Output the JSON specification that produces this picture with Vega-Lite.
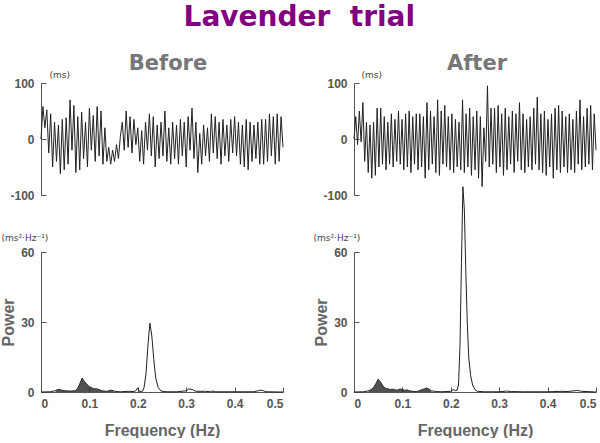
{
  "$schema": "https://vega.github.io/schema/vega-lite/v6.json",
  "background": "white",
  "padding": {"left": 0, "top": 4, "right": 0, "bottom": 0},
  "title": {"text": "Lavender\u00a0 trial", "font": "DejaVu Sans", "fontSize": 28, "fontWeight": "bold", "color": "#800080", "anchor": "middle", "offset": 21},
  "config": {
    "view": {"stroke": null},
    "axis": {"grid": false, "domainColor": "#555", "tickColor": "#555", "labelFont": "Liberation Sans", "labelFontWeight": "bold", "labelColor": "#555", "labelFontSize": 12, "titleFont": "Liberation Sans", "titleFontWeight": "bold", "titleColor": "#666", "titleFontSize": 16, "tickSize": -5, "labelPadding": 12}
  },
  "datasets": {
    "before_ts": [
      {"t":0,"v":0},{"t":1,"v":58},{"t":2,"v":20},{"t":3,"v":52},{"t":4,"v":-25},{"t":5,"v":45},{"t":6,"v":-50},{"t":7,"v":30},{"t":8,"v":-40},{"t":9,"v":25},
      {"t":10,"v":-62},{"t":11,"v":35},{"t":12,"v":-55},{"t":13,"v":38},{"t":14,"v":-45},{"t":15,"v":70},{"t":16,"v":-20},{"t":17,"v":60},{"t":18,"v":-60},{"t":19,"v":40},
      {"t":20,"v":-55},{"t":21,"v":48},{"t":22,"v":-35},{"t":23,"v":30},{"t":24,"v":-50},{"t":25,"v":55},{"t":26,"v":-20},{"t":27,"v":42},{"t":28,"v":-40},{"t":29,"v":58},
      {"t":30,"v":-30},{"t":31,"v":50},{"t":32,"v":-45},{"t":33,"v":20},{"t":34,"v":-40},{"t":35,"v":-15},{"t":36,"v":-45},{"t":37,"v":-20},{"t":38,"v":-40},{"t":39,"v":-10},
      {"t":40,"v":-35},{"t":41,"v":5},{"t":42,"v":30},{"t":43,"v":-20},{"t":44,"v":50},{"t":45,"v":-15},{"t":46,"v":40},{"t":47,"v":-25},{"t":48,"v":35},{"t":49,"v":-10},
      {"t":50,"v":20},{"t":51,"v":-40},{"t":52,"v":15},{"t":53,"v":-45},{"t":54,"v":30},{"t":55,"v":-20},{"t":56,"v":45},{"t":57,"v":-30},{"t":58,"v":40},{"t":59,"v":-50},
      {"t":60,"v":25},{"t":61,"v":-35},{"t":62,"v":30},{"t":63,"v":-30},{"t":64,"v":50},{"t":65,"v":-40},{"t":66,"v":20},{"t":67,"v":-45},{"t":68,"v":30},{"t":69,"v":-35},
      {"t":70,"v":25},{"t":71,"v":-45},{"t":72,"v":35},{"t":73,"v":-30},{"t":74,"v":30},{"t":75,"v":-50},{"t":76,"v":40},{"t":77,"v":-20},{"t":78,"v":55},{"t":79,"v":-35},
      {"t":80,"v":30},{"t":81,"v":-60},{"t":82,"v":10},{"t":83,"v":-45},{"t":84,"v":25},{"t":85,"v":-30},{"t":86,"v":20},{"t":87,"v":-40},{"t":88,"v":45},{"t":89,"v":-25},
      {"t":90,"v":40},{"t":91,"v":-35},{"t":92,"v":30},{"t":93,"v":-45},{"t":94,"v":35},{"t":95,"v":-30},{"t":96,"v":25},{"t":97,"v":-40},{"t":98,"v":35},{"t":99,"v":-25},
      {"t":100,"v":40},{"t":101,"v":-30},{"t":102,"v":30},{"t":103,"v":-45},{"t":104,"v":25},{"t":105,"v":-50},{"t":106,"v":35},{"t":107,"v":-55},{"t":108,"v":30},{"t":109,"v":-40},
      {"t":110,"v":25},{"t":111,"v":-35},{"t":112,"v":30},{"t":113,"v":-45},{"t":114,"v":35},{"t":115,"v":-45},{"t":116,"v":35},{"t":117,"v":-40},{"t":118,"v":45},{"t":119,"v":-30},
      {"t":120,"v":40},{"t":121,"v":-45},{"t":122,"v":45},{"t":123,"v":-40},{"t":124,"v":40},{"t":125,"v":-15}
    ],
    "after_ts": [
      {"t":0,"v":0},{"t":1,"v":40},{"t":2,"v":-10},{"t":3,"v":50},{"t":4,"v":-5},{"t":5,"v":65},{"t":6,"v":-40},{"t":7,"v":30},{"t":8,"v":-60},{"t":9,"v":25},
      {"t":10,"v":-70},{"t":11,"v":30},{"t":12,"v":-65},{"t":13,"v":55},{"t":14,"v":-50},{"t":15,"v":55},{"t":16,"v":-45},{"t":17,"v":40},{"t":18,"v":-55},{"t":19,"v":30},
      {"t":20,"v":-45},{"t":21,"v":45},{"t":22,"v":-50},{"t":23,"v":35},{"t":24,"v":-40},{"t":25,"v":50},{"t":26,"v":-45},{"t":27,"v":35},{"t":28,"v":-55},{"t":29,"v":45},
      {"t":30,"v":-50},{"t":31,"v":50},{"t":32,"v":-60},{"t":33,"v":40},{"t":34,"v":-45},{"t":35,"v":45},{"t":36,"v":-55},{"t":37,"v":45},{"t":38,"v":-50},{"t":39,"v":40},
      {"t":40,"v":-70},{"t":41,"v":65},{"t":42,"v":-55},{"t":43,"v":50},{"t":44,"v":-45},{"t":45,"v":40},{"t":46,"v":-60},{"t":47,"v":70},{"t":48,"v":-65},{"t":49,"v":50},
      {"t":50,"v":-45},{"t":51,"v":60},{"t":52,"v":-50},{"t":53,"v":40},{"t":54,"v":-55},{"t":55,"v":45},{"t":56,"v":-60},{"t":57,"v":35},{"t":58,"v":-50},{"t":59,"v":30},
      {"t":60,"v":-55},{"t":61,"v":70},{"t":62,"v":-60},{"t":63,"v":45},{"t":64,"v":-50},{"t":65,"v":55},{"t":66,"v":-65},{"t":67,"v":40},{"t":68,"v":-55},{"t":69,"v":50},
      {"t":70,"v":-70},{"t":71,"v":40},{"t":72,"v":-85},{"t":73,"v":20},{"t":74,"v":-40},{"t":75,"v":95},{"t":76,"v":-50},{"t":77,"v":55},{"t":78,"v":-45},{"t":79,"v":55},
      {"t":80,"v":-60},{"t":81,"v":60},{"t":82,"v":-50},{"t":83,"v":45},{"t":84,"v":-65},{"t":85,"v":55},{"t":86,"v":-55},{"t":87,"v":40},{"t":88,"v":-45},{"t":89,"v":50},
      {"t":90,"v":-60},{"t":91,"v":45},{"t":92,"v":-40},{"t":93,"v":65},{"t":94,"v":-55},{"t":95,"v":45},{"t":96,"v":-60},{"t":97,"v":35},{"t":98,"v":-50},{"t":99,"v":40},
      {"t":100,"v":-55},{"t":101,"v":55},{"t":102,"v":-45},{"t":103,"v":75},{"t":104,"v":-55},{"t":105,"v":45},{"t":106,"v":-60},{"t":107,"v":50},{"t":108,"v":-65},{"t":109,"v":35},
      {"t":110,"v":-50},{"t":111,"v":45},{"t":112,"v":-70},{"t":113,"v":55},{"t":114,"v":-55},{"t":115,"v":60},{"t":116,"v":-60},{"t":117,"v":50},{"t":118,"v":-50},{"t":119,"v":40},
      {"t":120,"v":-60},{"t":121,"v":45},{"t":122,"v":-55},{"t":123,"v":35},{"t":124,"v":-60},{"t":125,"v":50},{"t":126,"v":-45},{"t":127,"v":70},{"t":128,"v":-55},{"t":129,"v":40},
      {"t":130,"v":-50},{"t":131,"v":55},{"t":132,"v":-45},{"t":133,"v":60},{"t":134,"v":-55},{"t":135,"v":45},{"t":136,"v":-20}
    ],
    "before_psd": [
      {"f":0,"p":0},{"f":0.02,"p":0.1},{"f":0.03,"p":0.6},{"f":0.035,"p":1.1},{"f":0.04,"p":1.0},{"f":0.045,"p":0.7},{"f":0.05,"p":0.5},{"f":0.06,"p":0.4},{"f":0.07,"p":0.5},{"f":0.075,"p":1.2},
      {"f":0.08,"p":3.5},{"f":0.085,"p":6},{"f":0.09,"p":4.5},{"f":0.095,"p":3.2},{"f":0.1,"p":2.3},{"f":0.105,"p":1.8},{"f":0.11,"p":1.3},{"f":0.115,"p":1.4},{"f":0.12,"p":1.0},{"f":0.125,"p":0.6},
      {"f":0.13,"p":0.4},{"f":0.135,"p":0.3},{"f":0.14,"p":0.5},{"f":0.145,"p":0.8},{"f":0.15,"p":0.5},{"f":0.155,"p":0.2},{"f":0.165,"p":0.1},{"f":0.18,"p":0.3},{"f":0.19,"p":0.2},{"f":0.195,"p":0.4},
      {"f":0.2,"p":1.8},{"f":0.203,"p":0.3},{"f":0.21,"p":0.3},{"f":0.213,"p":2},{"f":0.217,"p":8},{"f":0.221,"p":20},{"f":0.225,"p":29.5},{"f":0.229,"p":24},{"f":0.233,"p":14},{"f":0.237,"p":6},
      {"f":0.242,"p":2},{"f":0.248,"p":0.4},{"f":0.26,"p":0.1},{"f":0.28,"p":0.1},{"f":0.3,"p":0.5},{"f":0.305,"p":1.3},{"f":0.31,"p":1.2},{"f":0.315,"p":0.8},{"f":0.32,"p":0.3},{"f":0.34,"p":0.3},
      {"f":0.35,"p":0.1},{"f":0.355,"p":0.4},{"f":0.36,"p":0.1},{"f":0.4,"p":0.1},{"f":0.44,"p":0.1},{"f":0.45,"p":0.6},{"f":0.455,"p":0.8},{"f":0.46,"p":0.5},{"f":0.465,"p":0.1},{"f":0.5,"p":0}
    ],
    "after_psd": [
      {"f":0,"p":0},{"f":0.02,"p":0.1},{"f":0.03,"p":0.5},{"f":0.035,"p":1.0},{"f":0.04,"p":1.8},{"f":0.045,"p":3.5},{"f":0.05,"p":5.5},{"f":0.055,"p":4.2},{"f":0.06,"p":2.5},{"f":0.065,"p":1.6},
      {"f":0.07,"p":1.3},{"f":0.075,"p":1.1},{"f":0.08,"p":1.2},{"f":0.085,"p":0.9},{"f":0.09,"p":0.8},{"f":0.095,"p":1.3},{"f":0.1,"p":1.1},{"f":0.105,"p":0.7},{"f":0.11,"p":0.9},{"f":0.115,"p":0.5},
      {"f":0.12,"p":0.3},{"f":0.13,"p":0.2},{"f":0.135,"p":0.6},{"f":0.14,"p":1.0},{"f":0.145,"p":1.3},{"f":0.15,"p":1.7},{"f":0.155,"p":1.2},{"f":0.16,"p":0.5},{"f":0.17,"p":0.2},{"f":0.18,"p":0.1},
      {"f":0.19,"p":0.2},{"f":0.2,"p":0.3},{"f":0.205,"p":1.0},{"f":0.21,"p":0.6},{"f":0.213,"p":0.8},{"f":0.216,"p":3},{"f":0.219,"p":20},{"f":0.222,"p":55},{"f":0.225,"p":88},{"f":0.228,"p":78},
      {"f":0.231,"p":52},{"f":0.234,"p":30},{"f":0.237,"p":15},{"f":0.241,"p":7},{"f":0.245,"p":3},{"f":0.25,"p":1},{"f":0.255,"p":0.3},{"f":0.27,"p":0.1},{"f":0.3,"p":0.1},{"f":0.315,"p":0.4},
      {"f":0.325,"p":0.2},{"f":0.35,"p":0.1},{"f":0.4,"p":0.1},{"f":0.43,"p":0.3},{"f":0.44,"p":0.2},{"f":0.455,"p":0.5},{"f":0.46,"p":0.7},{"f":0.47,"p":0.3},{"f":0.5,"p":0}
    ]
  },
  "columns": 2,
  "spacing": {"row": 57, "column": 71},
  "bounds": "flush",
  "concat": [
    {
      "width": 242, "height": 112,
      "title": {"text": "Before", "font": "DejaVu Sans", "fontSize": 21, "fontWeight": "bold", "color": "#777", "anchor": "middle", "frame": "group", "dx": 6, "offset": -4},
      "data": {"name": "before_ts"},
      "mark": {"type": "line", "color": "#222", "strokeWidth": 1},
      "encoding": {
        "x": {"field": "t", "type": "quantitative", "axis": null, "scale": {"nice": false, "zero": false}},
        "y": {"field": "v", "type": "quantitative", "scale": {"domain": [-100, 100]},
              "axis": {"values": [-100, 0, 100], "labelExpr": "'' + datum.value", "title": "(ms)", "titleAngle": 0, "titleX": 8, "titleY": -9, "titleAlign": "left", "titleBaseline": "middle", "titleFontSize": 9, "titleFontWeight": "normal", "titleColor": "#444", "titleFont": "DejaVu Sans"}}
      }
    },
    {
      "width": 242, "height": 112,
      "title": {"text": "After", "font": "DejaVu Sans", "fontSize": 21, "fontWeight": "bold", "color": "#777", "anchor": "middle", "frame": "group", "dx": 2, "offset": -4},
      "data": {"name": "after_ts"},
      "mark": {"type": "line", "color": "#222", "strokeWidth": 1},
      "encoding": {
        "x": {"field": "t", "type": "quantitative", "axis": null, "scale": {"nice": false, "zero": false}},
        "y": {"field": "v", "type": "quantitative", "scale": {"domain": [-100, 100]},
              "axis": {"values": [-100, 0, 100], "labelExpr": "'' + datum.value", "title": "(ms)", "titleAngle": 0, "titleX": 7, "titleY": -9, "titleAlign": "left", "titleBaseline": "middle", "titleFontSize": 9, "titleFontWeight": "normal", "titleColor": "#444", "titleFont": "DejaVu Sans"}}
      }
    },
    {
      "width": 242, "height": 140,
      "data": {"name": "before_psd"},
      "layer": [
        {
          "mark": {"type": "line", "color": "#222", "strokeWidth": 1},
          "encoding": {
            "x": {"field": "f", "type": "quantitative", "scale": {"domain": [0, 0.5], "nice": false},
                  "axis": {"values": [0, 0.1, 0.2, 0.3, 0.4, 0.5], "labelExpr": "datum.value == 0 ? '0' : format(datum.value, '.1f')", "title": "Frequency (Hz)", "labelPadding": 11, "titlePadding": 13}},
            "y": {"field": "p", "type": "quantitative", "scale": {"domain": [0, 60]},
                  "axis": {"orient": "left", "values": [0, 30, 60], "title": "Power", "titlePadding": 4}}
          }
        },
        {
          "transform": [{"filter": "datum.f >= 0.03 && datum.f <= 0.15"}],
          "mark": {"type": "area", "color": "#333", "opacity": 0.85},
          "encoding": {
            "x": {"field": "f", "type": "quantitative"},
            "y": {"field": "p", "type": "quantitative",
                  "axis": {"orient": "left", "title": "(ms²·Hz⁻¹)", "titleAngle": 0, "titleX": -40, "titleY": -15, "titleAlign": "left", "titleBaseline": "middle", "titleFontSize": 9, "titleFontWeight": "normal", "titleColor": "#444", "titleFont": "DejaVu Sans", "domain": false, "ticks": false, "labels": false}}
          }
        }
      ],
      "resolve": {"axis": {"y": "independent"}}
    },
    {
      "width": 242, "height": 140,
      "data": {"name": "after_psd"},
      "layer": [
        {
          "mark": {"type": "line", "color": "#222", "strokeWidth": 1},
          "encoding": {
            "x": {"field": "f", "type": "quantitative", "scale": {"domain": [0, 0.5], "nice": false},
                  "axis": {"values": [0, 0.1, 0.2, 0.3, 0.4, 0.5], "labelExpr": "datum.value == 0 ? '0' : format(datum.value, '.1f')", "title": "Frequency (Hz)", "labelPadding": 11, "titlePadding": 13}},
            "y": {"field": "p", "type": "quantitative", "scale": {"domain": [0, 60]},
                  "axis": {"orient": "left", "values": [0, 30, 60], "title": "Power", "titlePadding": 4}}
          }
        },
        {
          "transform": [{"filter": "datum.f >= 0.03 && datum.f <= 0.16"}],
          "mark": {"type": "area", "color": "#333", "opacity": 0.85},
          "encoding": {
            "x": {"field": "f", "type": "quantitative"},
            "y": {"field": "p", "type": "quantitative",
                  "axis": {"orient": "left", "title": "(ms²·Hz⁻¹)", "titleAngle": 0, "titleX": -41, "titleY": -15, "titleAlign": "left", "titleBaseline": "middle", "titleFontSize": 9, "titleFontWeight": "normal", "titleColor": "#444", "titleFont": "DejaVu Sans", "domain": false, "ticks": false, "labels": false}}
          }
        }
      ],
      "resolve": {"axis": {"y": "independent"}}
    }
  ]
}
